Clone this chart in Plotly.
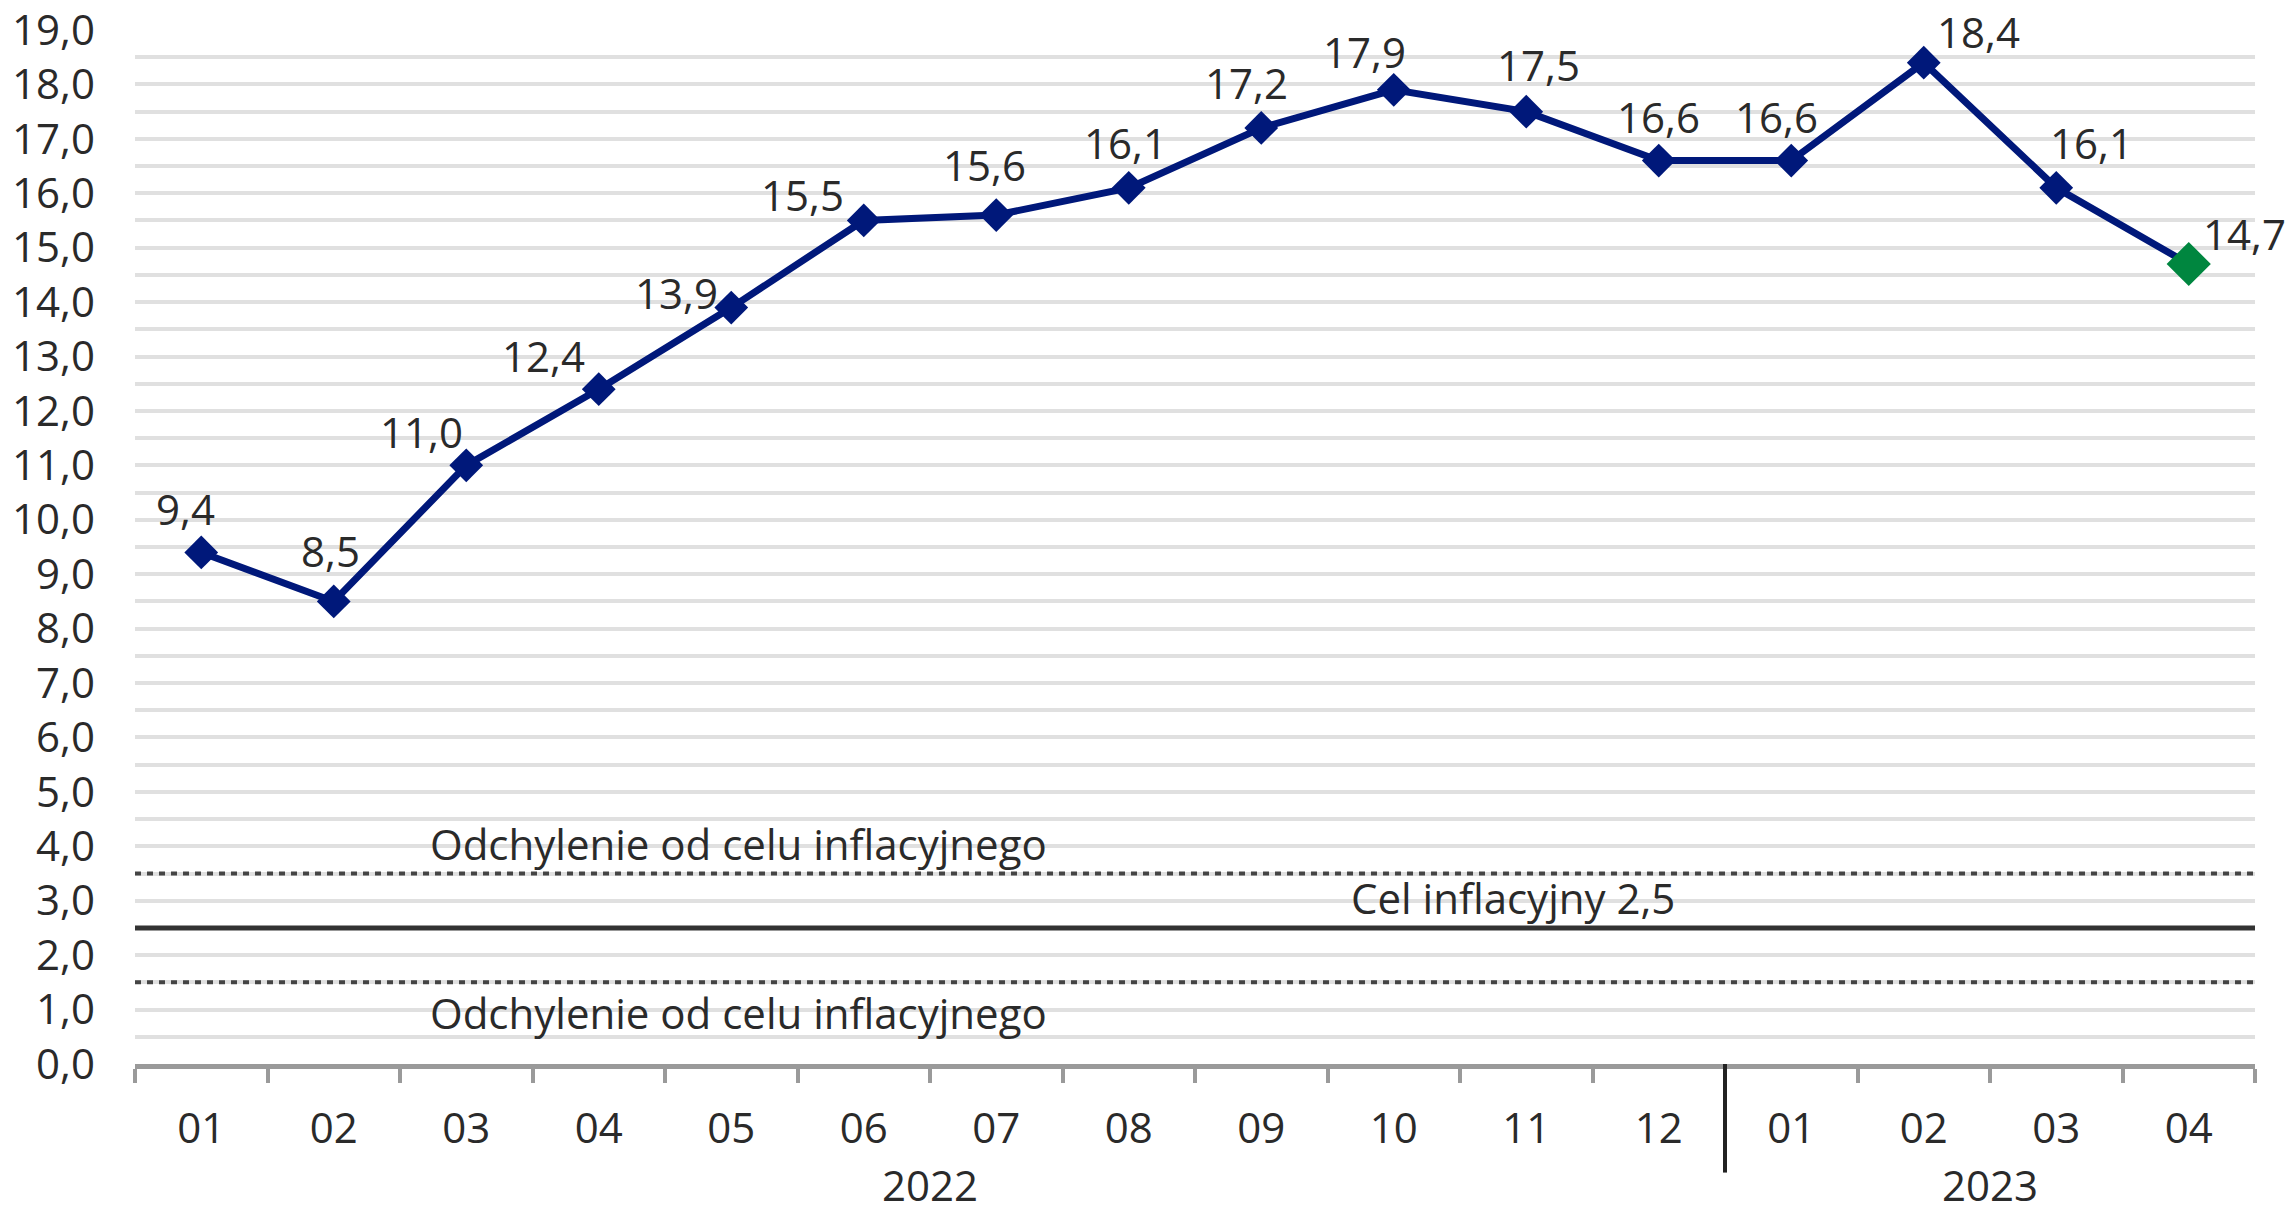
import plotly.graph_objects as go

# ---------------- data ----------------
years = ["2022"] * 12 + ["2023"] * 4
months = ["01", "02", "03", "04", "05", "06", "07", "08", "09", "10", "11", "12",
          "01", "02", "03", "04"]
cpi = [9.4, 8.5, 11.0, 12.4, 13.9, 15.5, 15.6, 16.1, 17.2, 17.9, 17.5, 16.6,
       16.6, 18.4, 16.1, 14.7]
target_value = 2.5
band_upper = 3.5
band_lower = 1.5
target_label = "Cel inflacyjny 2,5"
band_label = "Odchylenie od celu inflacyjnego"
y_tick_values = list(range(0, 20))

# ---------------- styles ----------------
NAVY = "#00187A"
GREEN = "#00863F"
TEXT = "#2a2a2a"
FONT = "Open Sans"
FS = 42

# pixel offsets of each value label from its marker (style only)
label_dx = [-16, -3, -45, -55, -55, -61, -12, -3, -15, -29, 12, 0, -15, 55, 35, 56]
label_dy = [44, 51, 34, 34, 15, 26, 51, 45, 45, 38, 47, 44, 44, 31, 45, 31]

keys = [f"{y}-{m}" for y, m in zip(years, months)]
n = len(cpi)
marker_colors = [NAVY] * (n - 1) + [GREEN]
marker_sizes = [26] * (n - 1) + [34]

fig = go.Figure()
fig.add_trace(go.Scatter(
    x=keys, y=cpi,
    mode="lines+markers",
    line=dict(color=NAVY, width=7),
    marker=dict(symbol="diamond", color=marker_colors, size=marker_sizes,
                opacity=1, line=dict(width=0)),
    cliponaxis=False,
    showlegend=False,
))

# value labels
for k, v, dx, dy in zip(keys, cpi, label_dx, label_dy):
    fig.add_annotation(x=k, y=v, xref="x", yref="y",
                       text=f"{v:.1f}".replace(".", ","),
                       showarrow=False, xanchor="center", yanchor="middle",
                       xshift=dx, yshift=dy,
                       font=dict(family=FONT, size=FS, color=TEXT))

# reference lines
fig.add_shape(type="line", xref="paper", x0=0, x1=1, yref="y",
              y0=band_upper, y1=band_upper,
              line=dict(color="#444444", width=4, dash="6px,6px"))
fig.add_shape(type="line", xref="paper", x0=0, x1=1, yref="y",
              y0=band_lower, y1=band_lower,
              line=dict(color="#444444", width=4, dash="6px,6px"))
fig.add_shape(type="line", xref="paper", x0=0, x1=1, yref="y",
              y0=target_value, y1=target_value,
              line=dict(color="#333333", width=5))

fig.add_annotation(x=1.71, y=band_upper, xref="x", yref="y", text=band_label,
                   showarrow=False, xanchor="left", yanchor="bottom",
                   font=dict(family=FONT, size=FS, color=TEXT))
fig.add_annotation(x=1.71, y=band_lower, xref="x", yref="y", text=band_label,
                   showarrow=False, xanchor="left", yanchor="top",
                   font=dict(family=FONT, size=FS, color=TEXT))
fig.add_annotation(x=8.66, y=target_value, xref="x", yref="y", text=target_label,
                   showarrow=False, xanchor="left", yanchor="bottom",
                   font=dict(family=FONT, size=FS, color=TEXT))

# year labels and divider derived from the data
unique_years = []
for y in years:
    if y not in unique_years:
        unique_years.append(y)
for yr in unique_years:
    idx = [i for i, y in enumerate(years) if y == yr]
    center = (idx[0] + idx[-1]) / 2
    fig.add_annotation(x=center, y=0, xref="x", yref="paper", text=yr,
                       showarrow=False, yanchor="middle", yshift=-120,
                       font=dict(family=FONT, size=FS, color=TEXT))
    if idx[0] > 0:
        fig.add_shape(type="line", xref="x", x0=idx[0] - 0.5, x1=idx[0] - 0.5,
                      yref="paper", y0=0, y1=-0.105,
                      line=dict(color="#222222", width=4))

fig.update_xaxes(
    type="category",
    tickmode="array", tickvals=keys, ticktext=months,
    tickson="boundaries",
    range=[-0.5, n - 0.5],
    showgrid=False, zeroline=False,
    showline=True, linecolor="#9a9a9a", linewidth=5,
    ticks="outside", ticklen=14, tickwidth=4, tickcolor="#9a9a9a",
    tickfont=dict(family=FONT, size=FS, color=TEXT),
    ticklabelstandoff=24,
    automargin=False,
)
fig.update_yaxes(
    range=[0, 19],
    tickmode="array", tickvals=y_tick_values,
    tickformat=".1f",
    showgrid=True, gridcolor="#e0e0e0", gridwidth=4,
    minor=dict(dtick=0.5, showgrid=True, gridcolor="#e0e0e0", gridwidth=4),
    zeroline=False, showline=False, ticks="",
    tickfont=dict(family=FONT, size=FS, color=TEXT),
    ticklabelstandoff=39,
    ticklabeloverflow="allow",
    automargin=False,
)
fig.update_layout(
    width=2290, height=1212,
    margin=dict(l=135, r=35, t=30, b=148),
    paper_bgcolor="white", plot_bgcolor="white",
    separators=", ",
)
fig.write_html(
    "out.html",
    config={"displayModeBar": False},
    post_script="document.body.style.margin='0px';document.body.style.overflow='hidden';",
)
